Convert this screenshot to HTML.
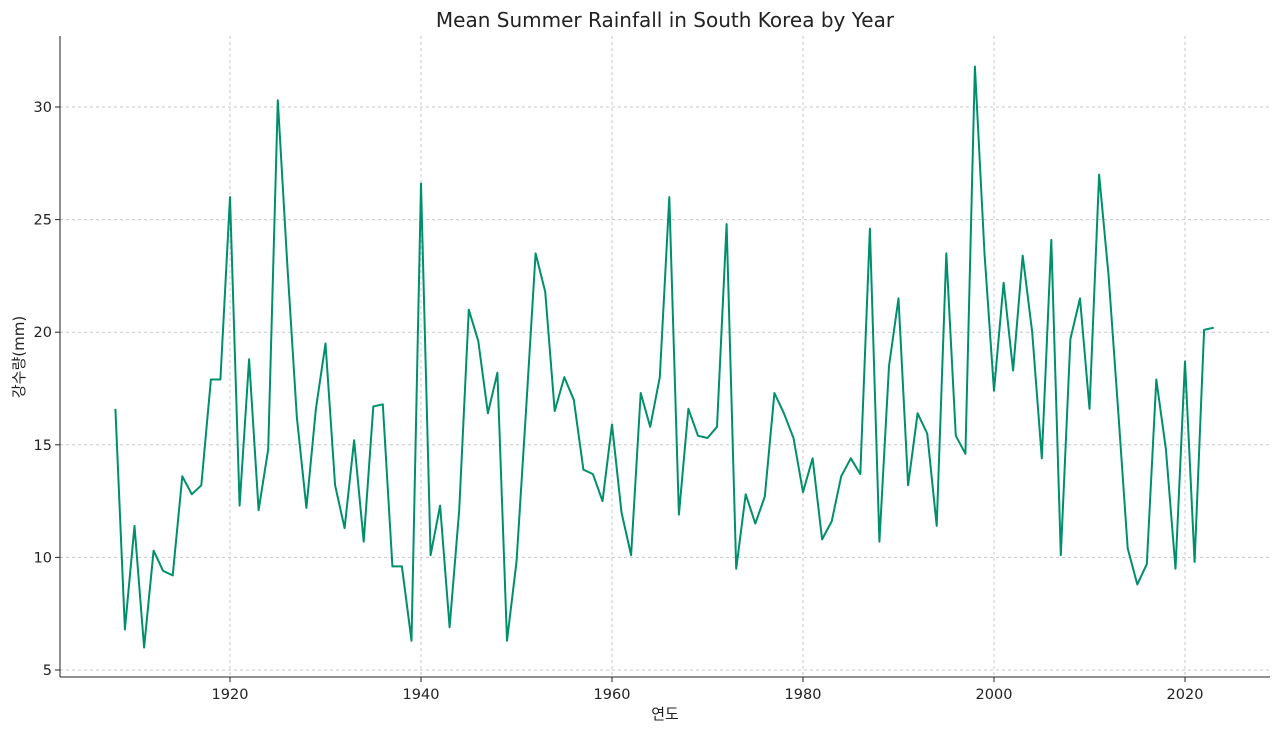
<!DOCTYPE html>
<html><head><meta charset="utf-8"><style>
body{margin:0;background:#fff;}
svg text{font-family:"DejaVu Sans","Noto Sans CJK KR",sans-serif;fill:#222;}
</style></head><body>
<svg id="chart" width="1280" height="732" xmlns="http://www.w3.org/2000/svg">
<text x="665" y="27" font-size="20" text-anchor="middle">Mean Summer Rainfall in South Korea by Year</text>
<g id="grid"></g>
<g id="axes"></g>
<path id="line" fill="none" stroke="#008f6b" stroke-width="2" stroke-linejoin="round"/>
<text x="665" y="719" font-size="15" text-anchor="middle">연도</text>
<text transform="translate(24,357) rotate(-90)" font-size="15" text-anchor="middle">강수량(mm)</text>
</svg>
<script>
const startYear = 1908;
const rainfall = [16.6,6.8,11.4,6.0,10.3,9.4,9.2,13.6,12.8,13.2,17.9,17.9,26.0,12.3,18.8,12.1,14.8,30.3,23.0,16.2,12.2,16.6,19.5,13.2,11.3,15.2,10.7,16.7,16.8,9.6,9.6,6.3,26.6,10.1,12.3,6.9,12.1,21.0,19.6,16.4,18.2,6.3,9.8,16.5,23.5,21.8,16.5,18.0,17.0,13.9,13.7,12.5,15.9,12.0,10.1,17.3,15.8,18.0,26.0,11.9,16.6,15.4,15.3,15.8,24.8,9.5,12.8,11.5,12.7,17.3,16.4,15.3,12.9,14.4,10.8,11.6,13.6,14.4,13.7,24.6,10.7,18.5,21.5,13.2,16.4,15.5,11.4,23.5,15.4,14.6,31.8,23.5,17.4,22.2,18.3,23.4,20.0,14.4,24.1,10.1,19.7,21.5,16.6,27.0,22.5,16.5,10.4,8.8,9.7,17.9,14.8,9.5,18.7,9.8,20.1,20.2];
const xTicks = [1920,1940,1960,1980,2000,2020];
const yTicks = [5,10,15,20,25,30];

const X = yr => 230 + (yr - 1920) * 9.55;
const Y = v => 107 + (30 - v) * 22.52;
const NS = "http://www.w3.org/2000/svg";
const grid = document.getElementById('grid');
const axes = document.getElementById('axes');
function mk(tag, attrs, parent){const e=document.createElementNS(NS,tag);for(const k in attrs)e.setAttribute(k,attrs[k]);parent.appendChild(e);return e;}
xTicks.forEach(t=>{
  const g = mk('line',{x1:X(t),x2:X(t),y1:36,y2:677,stroke:'#c8c8c8','stroke-dasharray':'3,3','stroke-width':1},grid);
  
  
  const tk = mk('line',{x1:X(t),x2:X(t),y1:677,y2:682,stroke:'#222'},axes);
  
  
  const tx = mk('text',{x:X(t),y:699,'font-size':14.5,'text-anchor':'middle'},axes);
  tx.textContent=t;
  
  
});
yTicks.forEach(t=>{
  const g = mk('line',{x1:60,x2:1270,y1:Y(t),y2:Y(t),stroke:'#c8c8c8','stroke-dasharray':'3,3','stroke-width':1},grid);
  
  
  const tk = mk('line',{x1:55,x2:60,y1:Y(t),y2:Y(t),stroke:'#222'},axes);
  
  
  const tx = mk('text',{x:52,y:Y(t)+5,'font-size':14.5,'text-anchor':'end'},axes);
  tx.textContent=t;
  
  
});
const sp1 = mk('line',{x1:60,x2:60,y1:36,y2:677,stroke:'#222','stroke-width':1},axes);


const sp2 = mk('line',{x1:60,x2:1270,y1:677,y2:677,stroke:'#222','stroke-width':1},axes);


document.getElementById('line').setAttribute('d', rainfall.map((v,i)=>(i?'L':'M')+X(startYear+i).toFixed(1)+','+Y(v).toFixed(1)).join(''));
</script>
</body></html>
